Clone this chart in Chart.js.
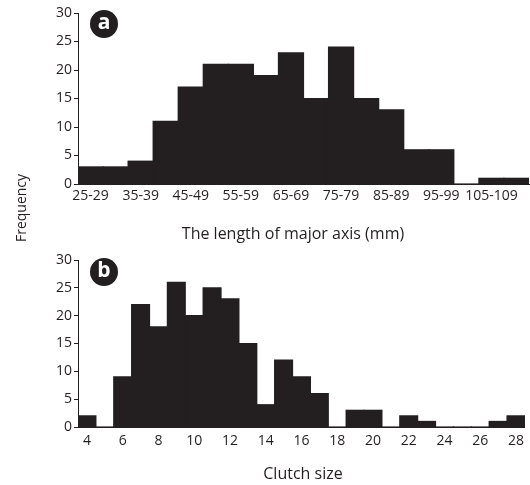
<!DOCTYPE html>
<html>
<head>
<meta charset="utf-8">
<script src="https://cdn.jsdelivr.net/npm/chart.js@4"></script>
<style>
  html, body { margin: 0; padding: 0; background: #fff; }
  #wrap { position: relative; width: 530px; height: 485px; }
  canvas { position: absolute; left: 0; }
  #chartA { top: 0; }
  #chartB { top: 245px; }
</style>
</head>
<body>
<div id="wrap">
  <canvas id="chartA" width="530" height="245"></canvas>
  <canvas id="chartB" width="530" height="240"></canvas>
</div>
<script>
// (a) length of major axis, 5 mm bins
const axisBins = ["25-29", "30-34", "35-39", "40-44", "45-49", "50-54", "55-59", "60-64", "65-69",
                  "70-74", "75-79", "80-84", "85-89", "90-94", "95-99", "100-104", "105-109", "110-114"];
const axisLabels = ["25-29", "", "35-39", "", "45-49", "", "55-59", "", "65-69",
                    "", "75-79", "", "85-89", "", "95-99", "", "105-109", ""];
const axisFreq = [3, 3, 4, 11, 17, 21, 21, 19, 23, 15, 24, 15, 13, 6, 6, 0, 1, 1];

// (b) clutch size
const clutchSizes = [4, 5, 6, 7, 8, 9, 10, 11, 12, 13, 14, 15, 16, 17, 18, 19, 20, 21, 22, 23, 24, 25, 26, 27, 28];
const clutchFreq = [2, 0, 9, 22, 18, 26, 20, 25, 23, 15, 4, 12, 9, 6, 0, 3, 3, 0, 2, 1, 0, 0, 0, 1, 2];

const yTicks = [0, 5, 10, 15, 20, 25, 30];

const ink = "#231f20";
const font = "'Open Sans', sans-serif";

// black disc with white letter in the corner of each panel
function panelBadge(letter, cx, cy) {
    return {
        id: "badge" + letter,
        afterDraw(chart) {
            const ctx = chart.ctx;
            ctx.save();
            ctx.fillStyle = ink;
            ctx.beginPath();
            ctx.arc(cx, cy, 14, 0, Math.PI * 2);
            ctx.fill();
            ctx.fillStyle = "#fff";
            ctx.font = "bold 21px " + font;
            ctx.textAlign = "center";
            ctx.textBaseline = "middle";
            ctx.fillText(letter, cx, cy - 1);
            ctx.restore();
        }
    };
}

// axis title text, placed by hand (the top one sits left of centre)
function axisTitle(text, cx, cy, rotate) {
    return {
        id: "title" + text.length,
        afterDraw(chart) {
            const ctx = chart.ctx;
            ctx.save();
            ctx.translate(cx, cy);
            if (rotate) ctx.rotate(-Math.PI / 2);
            ctx.fillStyle = ink;
            ctx.font = (rotate ? "14px " : "16px ") + font;
            ctx.textAlign = "center";
            ctx.textBaseline = "middle";
            ctx.fillText(text, 0, 0);
            ctx.restore();
        }
    };
}

function histogram(canvasId, labels, tickText, values, opts) {
    return new Chart(document.getElementById(canvasId), {
        type: "bar",
        data: {
            labels: labels,
            datasets: [{
                data: values,
                backgroundColor: ink,
                borderWidth: 0,
                inflateAmount: 0.6,
                barPercentage: 1,
                categoryPercentage: 1
            }]
        },
        options: {
            responsive: false,
            animation: false,
            events: [],
            layout: { padding: { top: opts.top, right: 1, left: 0, bottom: 0 } },
            plugins: { legend: { display: false }, tooltip: { enabled: false } },
            scales: {
                x: {
                    grid: { display: false, drawTicks: false },
                    border: { display: true, color: ink, width: 1 },
                    ticks: {
                        autoSkip: false,
                        maxRotation: 0,
                        padding: opts.tickPad,
                        color: ink,
                        font: { family: font, size: 14 },
                        callback: (v, i) => tickText[i]
                    },
                    afterFit: s => { s.height = opts.xHeight; }
                },
                y: {
                    min: 0,
                    max: 30,
                    afterBuildTicks: s => { s.ticks = yTicks.map(v => ({ value: v })); },
                    grid: { drawOnChartArea: false, drawTicks: true, tickLength: 4, color: ink },
                    border: { display: true, color: ink, width: 1 },
                    ticks: {
                        padding: 2,
                        color: ink,
                        font: { family: font, size: 14 }
                    },
                    afterFit: s => { s.width = 78; }
                }
            }
        },
        plugins: opts.plugins
    });
}

histogram("chartA", axisBins, axisLabels, axisFreq, {
    top: 13,
    tickPad: 4,
    xHeight: 61,
    plugins: [
        panelBadge("a", 104, 24),
        axisTitle("The length of major axis (mm)", 293, 234, false),
        axisTitle("Frequency", 22, 208, true)
    ]
});

histogram("chartB", clutchSizes, clutchSizes.map(v => v % 2 === 0 ? String(v) : ""), clutchFreq, {
    top: 15,
    tickPad: 6,
    xHeight: 58,
    plugins: [
        panelBadge("b", 104, 27),
        axisTitle("Clutch size", 303, 229, false)
    ]
});
</script>
</body>
</html>
